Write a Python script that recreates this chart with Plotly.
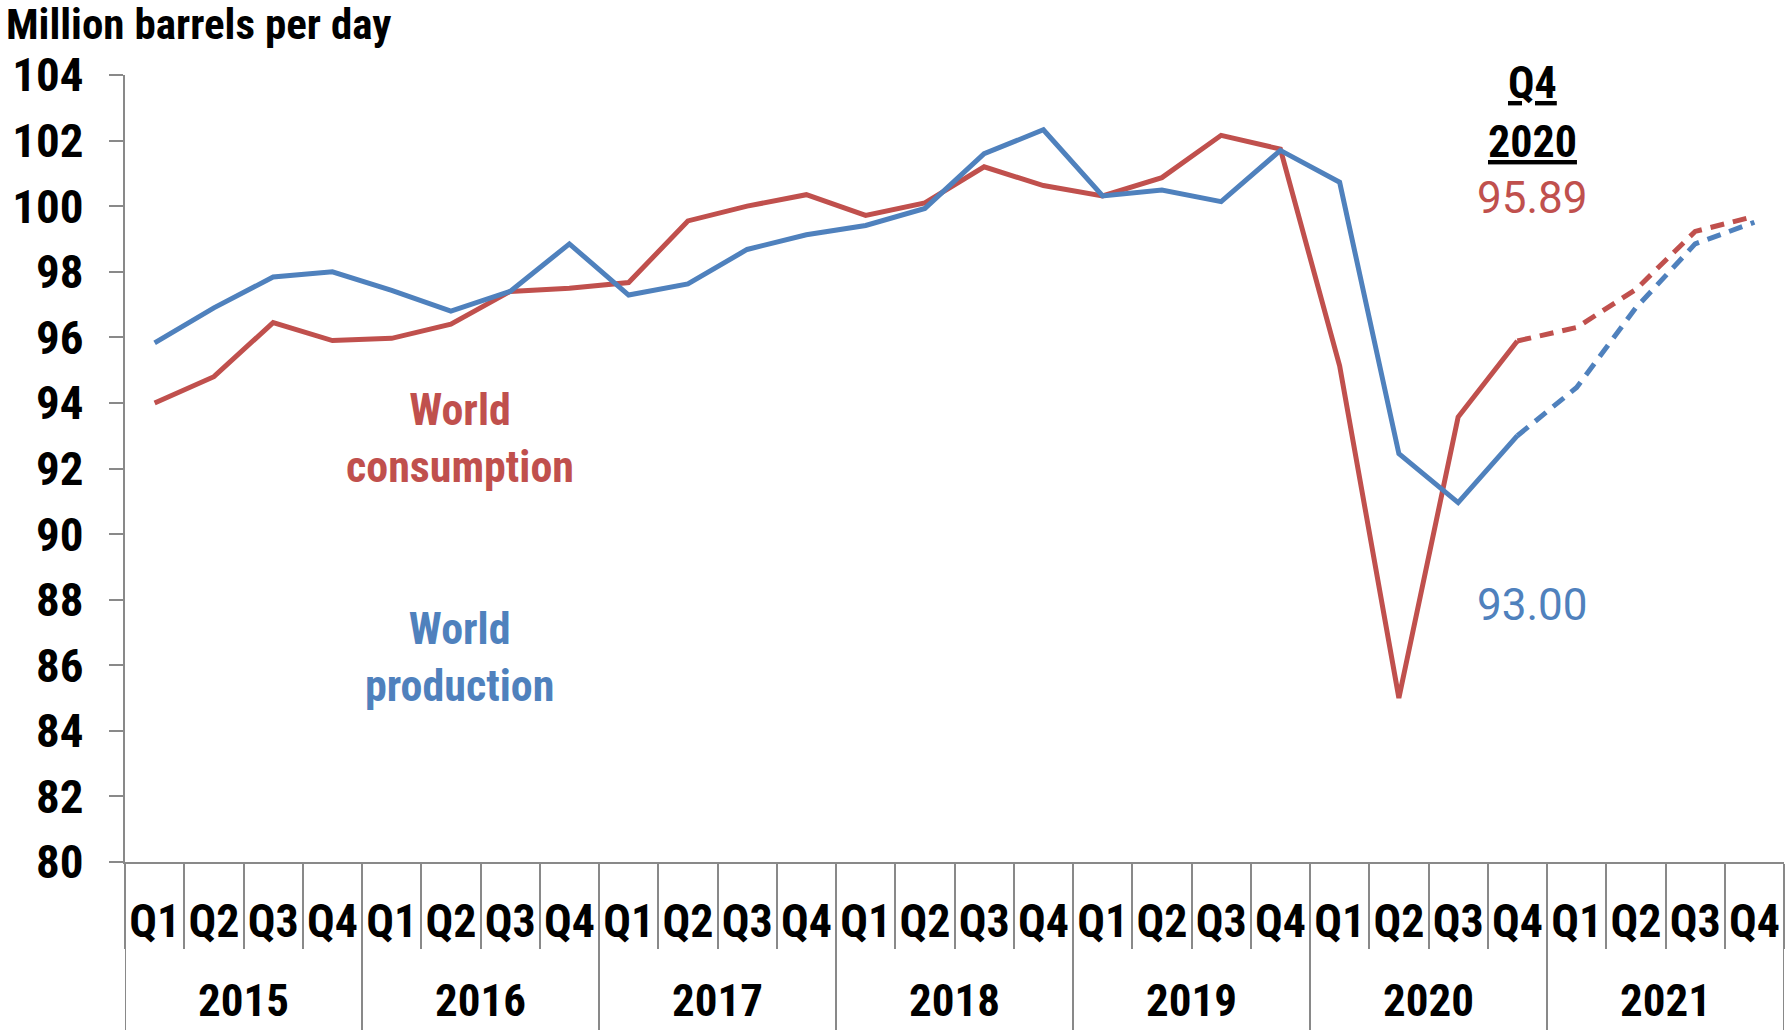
import plotly.graph_objects as go

# ---------------- data ----------------
years = ["2015", "2016", "2017", "2018", "2019", "2020", "2021"]
quarter_names = ["Q1", "Q2", "Q3", "Q4"]
quarters = [q for y in years for q in quarter_names]

consumption = [94.0, 94.8, 96.45, 95.9,
               95.97, 96.4, 97.4, 97.5,
               97.67, 99.55, 100.0, 100.35,
               99.72, 100.1, 101.2, 100.63,
               100.31, 100.87, 102.16, 101.74,
               95.13, 85.0, 93.57, 95.89,
               96.3, 97.46, 99.23, 99.69]
production = [95.83, 96.9, 97.84, 98.0,
              97.43, 96.8, 97.4, 98.85,
              97.29, 97.63, 98.68, 99.13,
              99.41, 99.93, 101.6, 102.33,
              100.31, 100.49, 100.14, 101.7,
              100.73, 92.45, 90.96, 93.0,
              94.47, 96.9, 98.85, 99.51]
last_actual = 23   # index of Q4 2020 (forecast starts after it)

RED = "#C0504D"
BLUE = "#4F81BD"
GRAY = "#898989"
NARROW = "Liberation Sans Narrow, Arial Narrow, Roboto Condensed, DejaVu Sans Condensed, sans-serif"
NUMF = "Roboto, Open Sans, sans-serif"

idx = list(range(len(quarters)))

fig = go.Figure()
for vals, col, name in [(consumption, RED, "World consumption"), (production, BLUE, "World production")]:
    fig.add_trace(go.Scatter(x=idx[:last_actual + 1], y=vals[:last_actual + 1], mode="lines",
                             line=dict(color=col, width=5), name=name, showlegend=False))
    fig.add_trace(go.Scatter(x=idx[last_actual:], y=vals[last_actual:], mode="lines",
                             line=dict(color=col, width=5, dash="14px,9px"), name=name + " forecast",
                             showlegend=False))

# year dividers (axis decoration)
for i in range(len(years) + 1):
    fig.add_shape(type="line", xref="x", yref="paper", x0=i * 4 - 0.5, x1=i * 4 - 0.5,
                  y0=0, y1=-0.25, line=dict(color=GRAY, width=2), layer="above")

# year labels
for i, y in enumerate(years):
    fig.add_annotation(x=i * 4 + 1.5, xref="x", y=-0.1765, yref="paper", text=y, showarrow=False,
                       font=dict(family=NARROW, size=45, color="black", weight="bold"),
                       yanchor="middle", borderpad=0)

# series labels
fig.add_annotation(x=5.15, y=92.93, xref="x", yref="y", text="World<br>consumption", showarrow=False,
                   font=dict(family=NARROW, size=44, color=RED, weight="bold"))
fig.add_annotation(x=5.15, y=86.25, xref="x", yref="y", text="World<br>production", showarrow=False,
                   font=dict(family=NARROW, size=44, color=BLUE, weight="bold"))
fig.add_annotation(x=23.26, y=103.76, xref="x", yref="y", text="<u>Q4</u>", showarrow=False,
                   font=dict(family=NARROW, size=44, color="black", weight="bold"))
fig.add_annotation(x=23.26, y=101.95, xref="x", yref="y", text="<u>2020</u>", showarrow=False,
                   font=dict(family=NARROW, size=44, color="black", weight="bold"))
fig.add_annotation(x=23.26, y=100.24, xref="x", yref="y", text=f"{consumption[last_actual]:.2f}",
                   showarrow=False, font=dict(family=NUMF, size=44, color=RED))
fig.add_annotation(x=23.26, y=87.85, xref="x", yref="y", text=f"{production[last_actual]:.2f}",
                   showarrow=False, font=dict(family=NUMF, size=44, color=BLUE))

fig.update_layout(
    width=1787, height=1030,
    paper_bgcolor="white", plot_bgcolor="white",
    margin=dict(l=125, r=3, t=75, b=168, autoexpand=False),
    title=dict(text="Million barrels per day", xref="container", yref="container",
               x=6 / 1787, y=1 - 24 / 1030, xanchor="left", yanchor="middle", automargin=False,
               font=dict(family=NARROW, size=43, color="black", weight="bold")),
    xaxis=dict(range=[-0.5, len(quarters) - 0.5], tickmode="array", tickvals=idx, ticktext=quarters,
               ticks="", showline=True, linecolor=GRAY, linewidth=2, showgrid=False, zeroline=False,
               automargin=False,
               tickfont=dict(family=NARROW, size=46, color="black", weight="bold"),
               ticklabelstandoff=18,
               minor=dict(ticks="outside", ticklen=85, tickcolor=GRAY, tickwidth=2,
                          tickmode="linear", tick0=0.5, dtick=1, showgrid=False)),
    yaxis=dict(range=[80, 104], dtick=2, tick0=80, ticks="outside", ticklen=14, tickcolor=GRAY,
               tickwidth=2, showline=True, linecolor=GRAY, linewidth=2, showgrid=False,
               zeroline=False, ticklabelstandoff=16, automargin=False,
               tickfont=dict(family=NARROW, size=47, color="black", weight="bold")),
)

fig.write_html("out.html", config={"displayModeBar": False},
               post_script="document.body.style.margin='0';document.body.style.overflow='hidden';")
